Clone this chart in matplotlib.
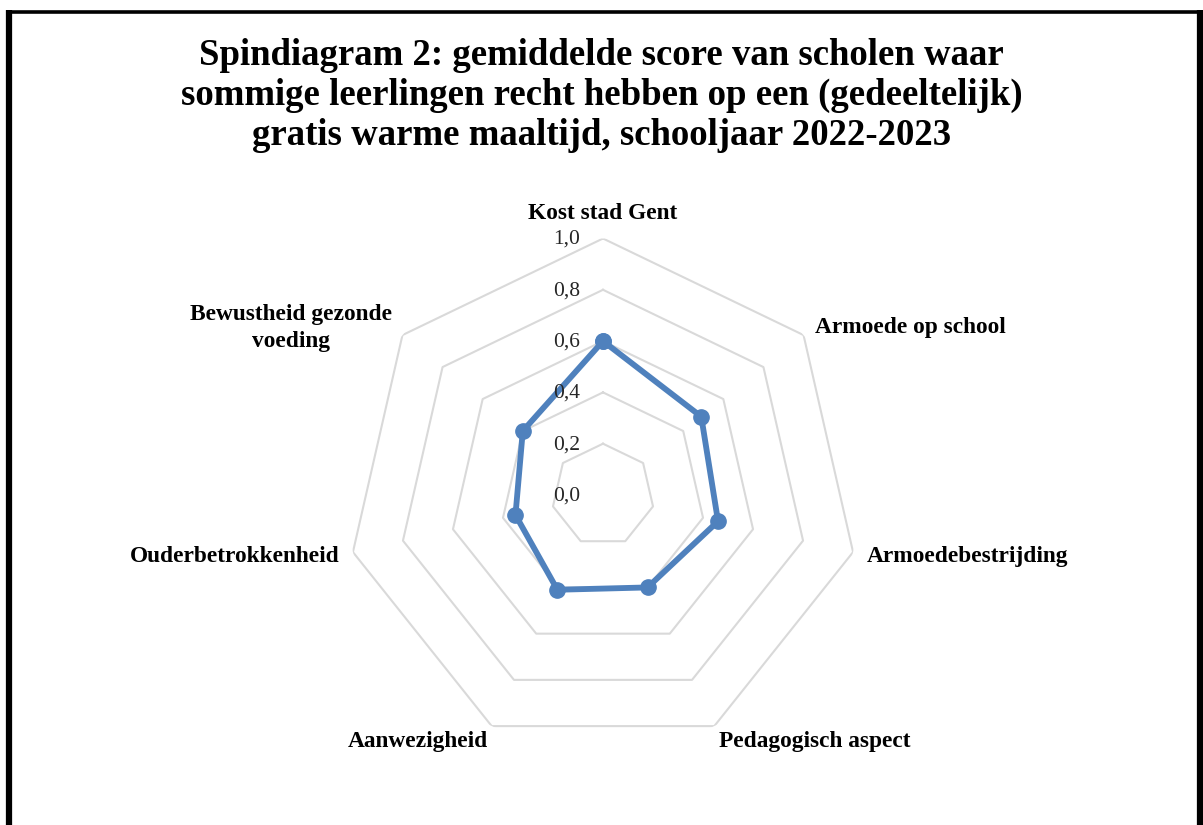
import matplotlib
matplotlib.use("Agg")
import matplotlib.pyplot as plt
import matplotlib.transforms as mtransforms
from matplotlib.lines import Line2D
import numpy as np

categories = ["Kost stad Gent", "Armoede op school", "Armoedebestrijding",
              "Pedagogisch aspect", "Aanwezigheid", "Ouderbetrokkenheid",
              "Bewustheid gezonde\nvoeding"]
scores = [0.60, 0.49, 0.46, 0.40, 0.41, 0.35, 0.40]
rings = [0.2, 0.4, 0.6, 0.8, 1.0]
tick_values = [0.0, 0.2, 0.4, 0.6, 0.8, 1.0]
tick_labels = ["0,0", "0,2", "0,4", "0,6", "0,8", "1,0"]
title = ("Spindiagram 2: gemiddelde score van scholen waar\n"
         "sommige leerlingen recht hebben op een (gedeeltelijk)\n"
         "gratis warme maaltijd, schooljaar 2022-2023")

serif = ["Liberation Serif", "DejaVu Serif"]
W, H = 1203, 825
fig = plt.figure(figsize=(W / 100, H / 100), dpi=100)

# polar axes placed so the centre sits at (603, 495) px, radius 256.5 px
cx, cy, R = 603, 495, 256.5
ax = fig.add_axes([(cx - R) / W, (H - cy - R) / H, 2 * R / W, 2 * R / H],
                  projection="polar")
ax.set_theta_zero_location("N")
ax.set_theta_direction(-1)
ax.set_ylim(0, 1)
ax.grid(False)
ax.spines["polar"].set_visible(False)
ax.set_xticks([])
ax.set_yticks([])
ax.patch.set_alpha(0)

n = len(categories)
angles = np.arange(n) * 2 * np.pi / n
closed = np.append(angles, angles[0])

for r in rings:
    ax.plot(closed, [r] * (n + 1), color="#D9D9D9", lw=1.5, zorder=1)

vals = scores + scores[:1]
ax.plot(closed, vals, color="#4F81BD", lw=4.2, marker="o", markersize=11,
        zorder=3, solid_joinstyle="round")

for v, lab in zip(tick_values, tick_labels):
    tr = mtransforms.offset_copy(ax.transData, fig=fig, x=-23, y=-1, units="dots")
    ax.text(0, v, lab, transform=tr, ha="right", va="center",
            fontsize=15.5, family=serif, color="#262626", zorder=4)

# label placement relative to each outer vertex (pixels)
label_style = [
    (0, 25, "center", "center"),
    (11, 8, "left", "center"),
    (14, -4, "left", "center"),
    (5, -15, "left", "center"),
    (-4, -15, "right", "center"),
    (-13, -4, "right", "center"),
    (-10, 7, "right", "center"),
]
for ang, lab, (dx, dy, ha, va) in zip(angles, categories, label_style):
    tr = mtransforms.offset_copy(ax.transData, fig=fig, x=dx, y=dy, units="dots")
    ax.text(ang, 1.0, lab, transform=tr, ha=ha, va=va, fontsize=16.8,
            fontweight="bold", family=serif, color="#000000",
            multialignment="center", linespacing=1.4)

fig.text(0.5, (H - 95.5) / H, title, ha="center", va="center", fontsize=26.5,
         fontweight="bold", family=serif, linespacing=1.19)

# outer frame
frame = dict(color="black", solid_capstyle="butt", transform=fig.transFigure)
fig.add_artist(Line2D([9 / W, 9 / W], [0, (H - 10) / H], lw=4.5, **frame))
fig.add_artist(Line2D([6 / W, 1203 / W], [(H - 11.5) / H] * 2, lw=2.6, **frame))
fig.add_artist(Line2D([1200 / W, 1200 / W], [0, (H - 10) / H], lw=4.5, **frame))

fig.savefig("out.png", dpi=100)
